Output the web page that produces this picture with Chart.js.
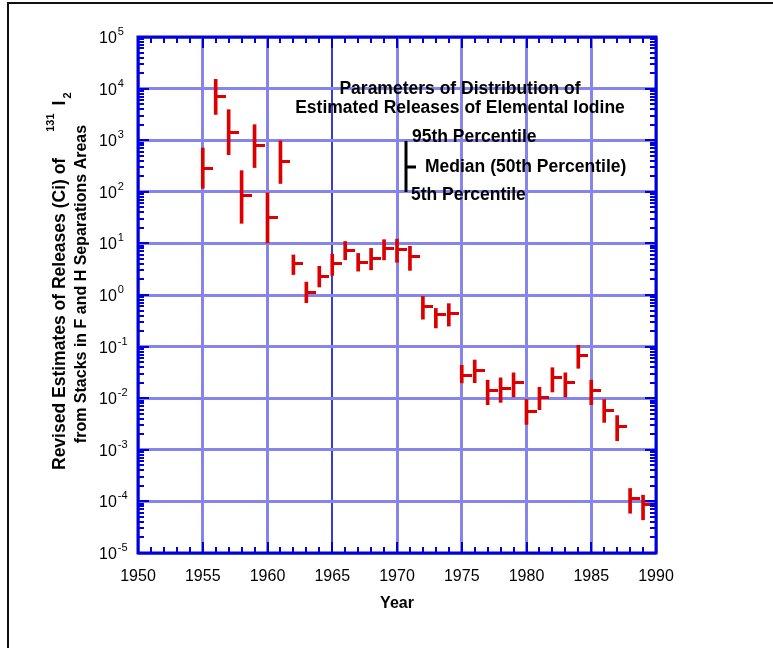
<!DOCTYPE html>
<html><head><meta charset="utf-8">
<script src="https://cdn.jsdelivr.net/npm/chart.js@4/dist/chart.umd.min.js"></script>
<style>html,body{margin:0;padding:0;background:#fff}#wrap{width:773px;height:648px;position:relative}</style>
</head><body><div id="wrap"><canvas id="c" width="773" height="648"></canvas></div>
<script>
// ---- data ----
const years = [1955,1956,1957,1958,1959,1960,1961,1962,1963,1964,1965,1966,1967,1968,1969,1970,1971,1972,1973,1974,1975,1976,1977,1978,1979,1980,1981,1982,1983,1984,1985,1986,1987,1988,1989];
const p5 = [117,3160,523,24.5,295,10.2,145,2.49,0.71,1.43,2.4,4.8,2.9,3.07,4.8,4.3,3.0,0.34,0.23,0.25,0.0198,0.020,0.0075,0.0083,0.0106,0.0031,0.0060,0.0132,0.0106,0.038,0.0075,0.0034,0.0015,5.9e-5,4.4e-5];
const median = [282,7100,1400,85,790,31.6,390,4.0,1.14,2.3,4.0,7.2,4.3,5.0,7.8,7.5,5.6,0.60,0.41,0.43,0.0275,0.035,0.0141,0.0156,0.0204,0.0055,0.0101,0.0257,0.020,0.066,0.0141,0.0059,0.0028,1.12e-4,8.7e-5];
const p95 = [708,15100,3900,257,2000,95,970,5.97,1.78,3.6,6.2,10.9,6.4,8.0,11.8,12.1,8.8,0.94,0.55,0.68,0.0433,0.055,0.0224,0.0248,0.031,0.0094,0.0163,0.039,0.031,0.106,0.0224,0.0094,0.0046,1.78e-4,1.32e-4];
const xTicks = [1950,1955,1960,1965,1970,1975,1980,1985,1990];
const xTickLabels = ['1950','1955','1960','1965','1970','1975','1980','1985','1990'];
const yExponents = [-5,-4,-3,-2,-1,0,1,2,3,4,5];
const yTickLabels = yExponents.map(e => ({base:'10', exp:String(e)}));
const xTitle = 'Year';
const yTitle1 = 'Revised Estimates of Releases (Ci) of';
const yTitle2 = 'from Stacks in F and H Separations Areas';
const legendTitle = ['Parameters of Distribution of','Estimated Releases of Elemental Iodine'];
const legendLabels = ['95th Percentile','Median (50th Percentile)','5th Percentile'];

const RED = '#dd0000';
const GRID = '#8585ec';
// median marker: a short horizontal dash to the right of the point
const dash = document.createElement('canvas');
dash.width = 20; dash.height = 3;
(function(){const g = dash.getContext('2d'); g.fillStyle = RED; g.fillRect(10,0,10,3);})();

const FONT = 'Liberation Sans, Arial, Helvetica, sans-serif';

const decor = {
  id:'decor',
  beforeDraw(chart){
    const ctx = chart.ctx;
    ctx.save();
    ctx.fillStyle = '#fff'; ctx.fillRect(0,0,chart.width,chart.height);
    ctx.strokeStyle = '#111'; ctx.lineWidth = 2;
    ctx.beginPath(); ctx.moveTo(8,648); ctx.lineTo(8,3); ctx.lineTo(773,3); ctx.stroke();
    ctx.restore();
  },
  afterDraw(chart){
    const ctx = chart.ctx, xs = chart.scales.x, ys = chart.scales.y;
    const {left,right,top,bottom} = chart.chartArea;
    ctx.save();
    // inward ticks
    ctx.strokeStyle = '#0000dd'; ctx.lineWidth = 2;
    ctx.beginPath();
    for (let yr = xs.min; yr <= xs.max; yr++) {
      const px = Math.round(xs.getPixelForValue(yr));
      const len = (yr % 5 === 0) ? 11 : 6;
      ctx.moveTo(px, bottom); ctx.lineTo(px, bottom - len);
      ctx.moveTo(px, top); ctx.lineTo(px, top + len);
    }
    for (let e = yExponents[0]; e < yExponents[yExponents.length-1]; e++) {
      for (let m = 1; m <= 9; m++) {
        const py = Math.round(ys.getPixelForValue(m * Math.pow(10, e)));
        const len = m === 1 ? 11 : 6;
        ctx.moveTo(left, py); ctx.lineTo(left + len, py);
        ctx.moveTo(right, py); ctx.lineTo(right - len, py);
      }
    }
    ctx.stroke();
    // frame
    ctx.strokeStyle = '#0000dd'; ctx.lineWidth = 3;
    ctx.strokeRect(left, top, right - left, bottom - top);

    // y tick labels (10 with superscript exponent)
    ctx.fillStyle = '#000'; ctx.textBaseline = 'alphabetic'; ctx.textAlign = 'left';
    yExponents.forEach((e, i) => {
      const py = ys.getPixelForValue(Math.pow(10, e));
      ctx.font = '16px ' + FONT;
      ctx.fillText(yTickLabels[i].base, 99, py + 6);
      const w = ctx.measureText(yTickLabels[i].base).width;
      ctx.font = '11px ' + FONT;
      ctx.fillText(yTickLabels[i].exp, 99 + w + 1, py - 2);
    });
    // x tick labels
    ctx.font = '16px ' + FONT; ctx.textAlign = 'center'; ctx.textBaseline = 'middle';
    xTicks.forEach((v, i) => ctx.fillText(xTickLabels[i], xs.getPixelForValue(v), 577));
    // x title
    ctx.font = 'bold 16px ' + FONT;
    ctx.fillText(xTitle, (left + right) / 2, 604);

    // y title (rotated)
    ctx.save();
    ctx.translate(60, 0); ctx.rotate(-Math.PI / 2);
    ctx.textBaseline = 'middle'; ctx.textAlign = 'left';
    const big = 'bold 17.5px ' + FONT, small = 'bold 11px ' + FONT;
    let s = -470;
    ctx.font = big; ctx.fillText(yTitle1, s, 0); s += ctx.measureText(yTitle1).width + 26;
    ctx.font = small; ctx.fillText('131', s, -9); s += ctx.measureText('131').width + 8;
    ctx.font = big; ctx.fillText('I', s, 0); s += ctx.measureText('I').width + 2;
    ctx.font = small; ctx.fillText('2', s, 8);
    ctx.font = 'bold 16px ' + FONT; ctx.textAlign = 'center';
    ctx.fillText(yTitle2, -284, 22);
    ctx.restore();

    // in-plot legend
    ctx.fillStyle = '#000';
    ctx.font = 'bold 17.5px ' + FONT; ctx.textAlign = 'center'; ctx.textBaseline = 'middle';
    ctx.fillText(legendTitle[0], 460, 89);
    ctx.fillText(legendTitle[1], 460, 108);
    ctx.textAlign = 'left';
    ctx.fillText(legendLabels[0], 412, 137);
    ctx.fillText(legendLabels[1], 425, 167);
    ctx.fillText(legendLabels[2], 411, 195);
    ctx.strokeStyle = '#000'; ctx.lineWidth = 3;
    ctx.beginPath(); ctx.moveTo(406, 141); ctx.lineTo(406, 192);
    ctx.moveTo(406, 167); ctx.lineTo(416, 167); ctx.stroke();
    ctx.restore();
  }
};

new Chart(document.getElementById('c'), {
  type: 'bar',
  data: {
    datasets: [
      { type: 'bar', label: '5th-95th', data: years.map((y, i) => ({x: y, y: [p5[i], p95[i]]})),
        backgroundColor: RED, borderWidth: 0, borderSkipped: false, barThickness: 3, grouped: false },
      { type: 'scatter', label: 'Median', data: years.map((y, i) => ({x: y, y: median[i]})),
        pointStyle: dash, pointRadius: 10, showLine: false }
    ]
  },
  options: {
    responsive: false, animation: false, devicePixelRatio: 1,
    layout: { padding: { left: 0, top: 37, right: 117, bottom: 0 } },
    plugins: { legend: { display: false }, tooltip: { enabled: false } },
    scales: {
      x: { type: 'linear', min: 1950, max: 1990, offset: false,
           afterBuildTicks: s => { s.ticks = xTicks.map(v => ({value: v})); },
           afterFit: s => { s.height = 95; },
           ticks: { display: false },
           grid: { color: c => (c.tick && c.tick.value === 1965) ? '#3a3ad8' : GRID,
                   lineWidth: c => (c.tick && c.tick.value === 1965) ? 2 : 3,
                   drawTicks: false, offset: false },
           border: { display: false } },
      y: { type: 'logarithmic', min: 1e-5, max: 1e5,
           afterBuildTicks: s => { s.ticks = yExponents.map(e => ({value: Math.pow(10, e)})); },
           afterFit: s => { s.width = 138; },
           ticks: { display: false },
           grid: { color: GRID, lineWidth: 3, drawTicks: false },
           border: { display: false } }
    }
  },
  plugins: [decor]
});
</script>
</body></html>
